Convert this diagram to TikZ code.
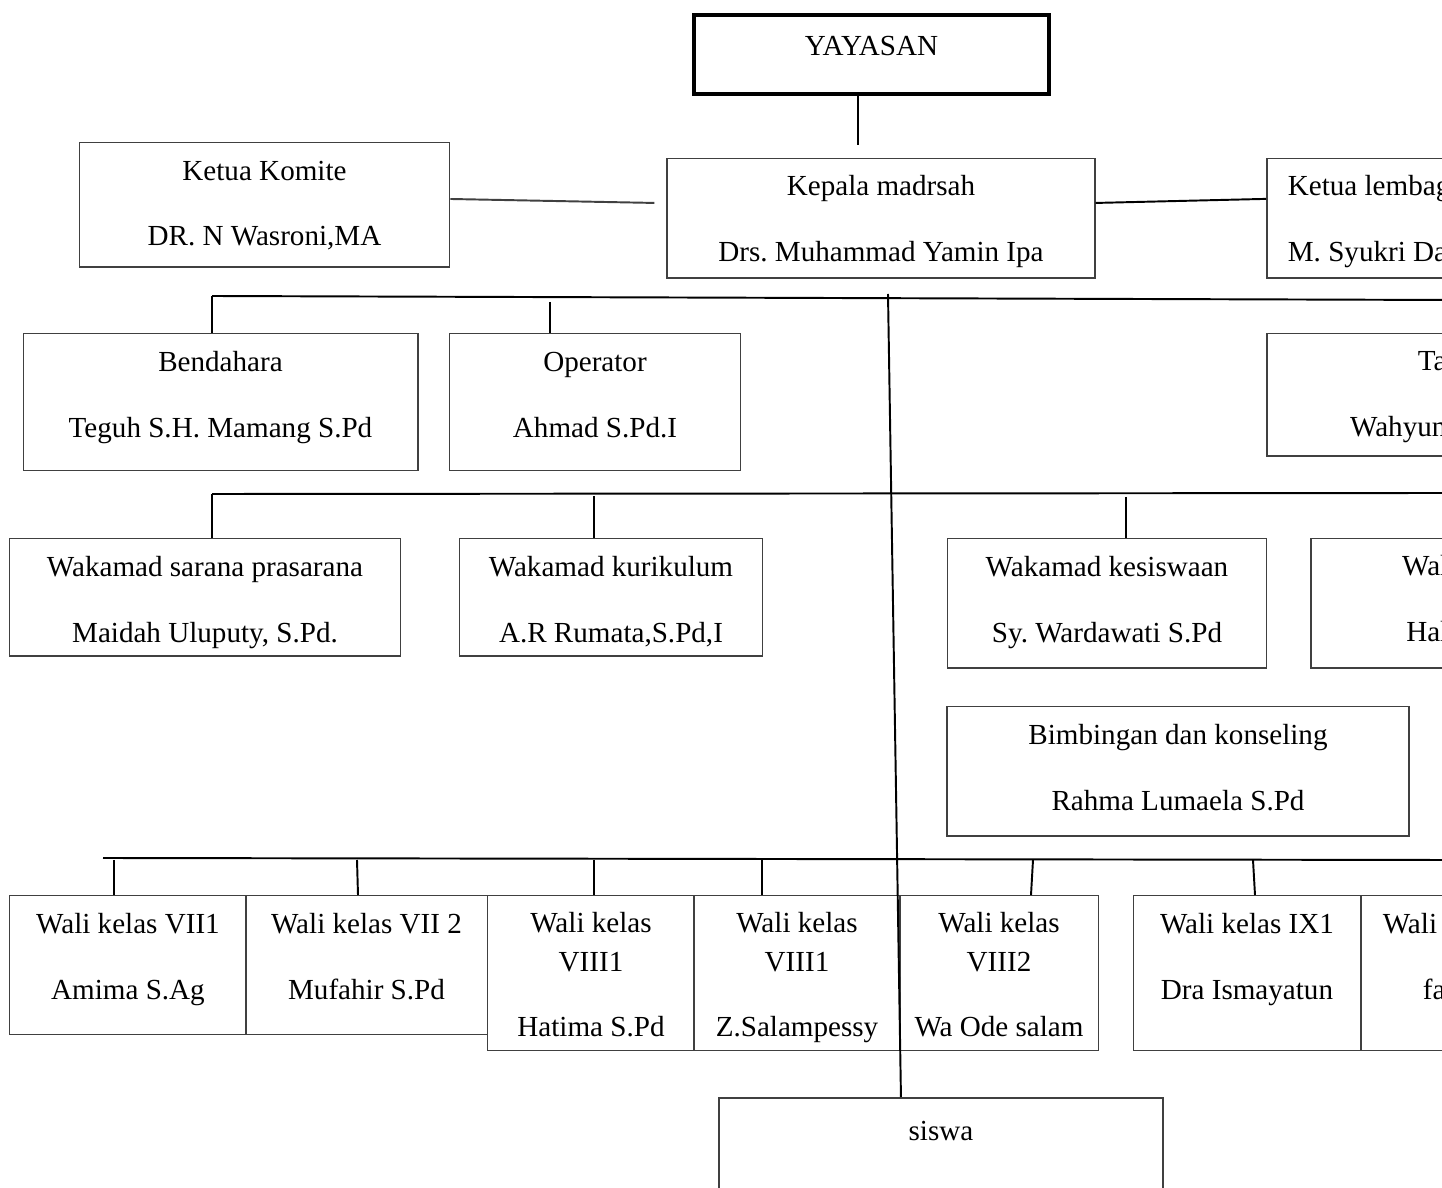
\documentclass[tikz,border=0pt]{standalone}
\usepackage{fontspec}
\setmainfont{Liberation Serif}
\tikzset{
  orgbox/.style={draw=black!75, line width=0.85pt, anchor=north, align=center,
    inner ysep=0pt, text height=58.4pt, font=\fontsize{16.5}{37.4}\selectfont\frenchspacing},
  cutleft/.style={orgbox, anchor=north west, align=flush left, text height=21pt},
  cutright/.style={orgbox, anchor=north west, align=flush right, inner xsep=0.3cm, text height=21pt},
  link/.style={line width=1.1pt},
}

\begin{document}
\begin{tikzpicture}[x=0.5669pt, y=-0.5669pt]
  \clip (0,0) rectangle (1442,1188);
  \fill[white] (0,0) rectangle (1442,1188);

  % top
  \node[orgbox, line width=2.2pt, draw=black, minimum width=7.06cm, minimum height=1.58cm,
    text height=22.7pt, text depth=22.1pt] (yayasan) at (871.5,13) {YAYASAN};
  \node[orgbox, minimum width=7.38cm, minimum height=2.48cm, text depth=11.9pt]
    (komite) at (264.5,142) {Ketua Komite\\DR. N Wasroni,MA};
  \node[orgbox, minimum width=8.52cm, minimum height=2.38cm, text depth=9.1pt]
    (kepala) at (881,158) {Kepala madrsah\\Drs. Muhammad Yamin Ipa};
  \node[cutleft, minimum width=5.08cm, minimum height=2.38cm, text width=4.24cm,
    inner xsep=0.42cm, text depth=46.5pt] (lembaga) at (1266,158) {Ketua lembag\\M. Syukri Da};

  % staff
  \node[orgbox, minimum width=7.86cm, minimum height=2.72cm, text depth=18.7pt]
    (bendahara) at (220.5,333) {Bendahara\\Teguh S.H. Mamang S.Pd};
  \node[orgbox, minimum width=5.8cm, minimum height=2.72cm, text depth=18.7pt]
    (operator) at (595,333) {Operator\\Ahmad S.Pd.I};
  \node[cutright, minimum width=3.88cm, minimum height=2.44cm, text width=3.28cm,
    text depth=48.2pt] (tu) at (1266,333) {Ta\\Wahyun};

  % wakamad
  \node[orgbox, minimum width=7.8cm, minimum height=2.34cm, text depth=7.9pt]
    (sarana) at (205,538) {Wakamad sarana prasarana\\Maidah Uluputy, S.Pd.};
  \node[orgbox, minimum width=6.04cm, minimum height=2.34cm, text depth=7.9pt]
    (kurikulum) at (611,538) {Wakamad kurikulum\\A.R Rumata,S.Pd,I};
  \node[orgbox, minimum width=6.36cm, minimum height=2.58cm, text depth=14.7pt]
    (kesiswaan) at (1107,538) {Wakamad kesiswaan\\Sy. Wardawati S.Pd};
  \node[cutright, minimum width=3.04cm, minimum height=2.58cm, text width=2.44cm,
    text depth=52.2pt] (wakamad4) at (1310,538) {Wal\\Hal};
  \node[orgbox, minimum width=9.2cm, minimum height=2.58cm, text depth=14.7pt]
    (bk) at (1178,706) {Bimbingan dan konseling\\Rahma Lumaela S.Pd};

  % wali kelas
  \node[orgbox, minimum width=4.72cm, minimum height=2.76cm, text depth=19.8pt]
    (kelas71) at (128,895) {Wali kelas VII1\\Amima S.Ag};
  \node[orgbox, minimum width=4.82cm, minimum height=2.76cm, text depth=19.8pt]
    (kelas72) at (366.5,895) {Wali kelas VII 2\\Mufahir S.Pd};
  \node[orgbox, minimum width=4.12cm, minimum height=3.08cm, text height=79.9pt,
    text depth=7.4pt] (kelas81) at (591,895) {Wali kelas\\[-15.3pt]VIII1\\Hatima S.Pd};
  \node[orgbox, minimum width=4.12cm, minimum height=3.08cm, text height=79.9pt,
    text depth=7.4pt] (kelas81b) at (797,895) {Wali kelas\\[-15.3pt]VIII1\\Z.Salampessy};
  \node[orgbox, minimum width=3.96cm, minimum height=3.08cm, text height=79.9pt,
    text depth=7.4pt] (kelas82) at (999,895) {Wali kelas\\[-15.3pt]VIII2\\Wa Ode salam};
  \node[orgbox, minimum width=4.52cm, minimum height=3.08cm, text depth=28.9pt]
    (kelas91) at (1247,895) {Wali kelas IX1\\Dra Ismayatun};
  \node[cutleft, minimum width=3.2cm, minimum height=3.08cm, text width=2.32cm,
    inner xsep=0.44cm, text depth=66.3pt] (kelas92) at (1360,895) {Wali\\\hspace*{22.7pt}fa};

  \node[orgbox, minimum width=8.84cm, minimum height=3cm, text height=23.8pt,
    text depth=61.2pt] (siswa) at (941,1097) {siswa};

  % bus lines
  \coordinate (ya) at (858,145);
  \coordinate (busAl) at (212,296);
  \coordinate (busAr) at (1450,300);
  \coordinate (op) at (550,302);
  \coordinate (busBl) at (212,494);
  \coordinate (busBr) at (1450,493);
  \coordinate (busCl) at (103,858);
  \coordinate (busCr) at (1450,860);
  \coordinate (spine) at (888,294);

  \draw[link] (ya |- yayasan.south) -- (ya);
  \draw[link, draw=black!75] ([yshift=3.4pt]komite.east) -- ([xshift=-6.8pt,yshift=8.8pt]kepala.west);
  \draw[link] ([yshift=8.8pt]kepala.east) -- ([yshift=11.1pt]lembaga.west);

  \draw[link] (busAl) -- (busAr);
  \draw[link] (busAl) -- (busAl |- bendahara.north);
  \draw[link] (op) -- (op |- operator.north);

  \draw[link] (busBl) -- (busBr);
  \draw[link] (busBl) -- (busBl |- sarana.north);
  \draw[link] (594,496) -- (594,538);
  \draw[link] (1126,497) -- (1126,538);

  \draw[link] (busCl) -- (busCr);
  \foreach \xa/\xb in {114/114, 357/358, 594/594, 762/762, 1033/1031, 1253/1255}
    \draw[link] (\xa,860) -- (\xb,895);

  \draw[link] (spine) -- ([xshift=-22.7pt]siswa.north);
\end{tikzpicture}
\end{document}
